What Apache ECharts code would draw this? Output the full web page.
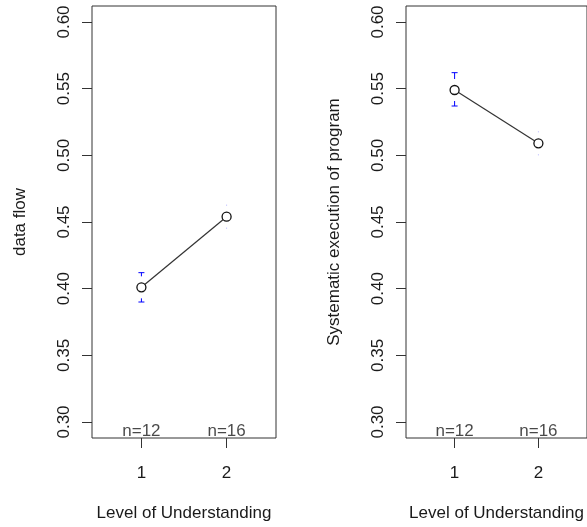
<!DOCTYPE html>
<html>
<head>
<meta charset="utf-8">
<script src="https://cdn.jsdelivr.net/npm/echarts@6/dist/echarts.min.js"></script>
<style>
html,body{margin:0;padding:0;background:#fff;}
#chart{width:587px;height:527px;}
</style>
</head>
<body>
<div id="chart"></div>
<script>
// values
var levels = [1, 2];
var nCounts = [12, 16];
var yTicks = [0.30, 0.35, 0.40, 0.45, 0.50, 0.55, 0.60];
var xTicks = [1, 2];

var dataFlowMean = [0.401, 0.454];
var dataFlowLower = [0.390, 0.445];
var dataFlowUpper = [0.412, 0.463];

var sysExecMean = [0.549, 0.509];
var sysExecLower = [0.537, 0.500];
var sysExecUpper = [0.562, 0.518];

var FONT = '"Liberation Sans", Arial, sans-serif';
var GAP = 11; // gap round the mean, px

function xAxisOf(gi) {
	return {
		type: 'value', gridIndex: gi, min: 0.42, max: 2.58,
		name: 'Level of Understanding', nameLocation: 'middle', nameGap: 67,
		nameTextStyle: {fontFamily: FONT, fontSize: 17, color: '#1a1a1a'},
		axisLine: {show: false},
		axisTick: {show: true, customValues: xTicks, length: 10, lineStyle: {color: '#333'}},
		axisLabel: {customValues: xTicks, margin: 27, fontFamily: FONT, fontSize: 17, color: '#1a1a1a'},
		splitLine: {show: false}
	};
}

function yAxisOf(gi, title) {
	return {
		type: 'value', gridIndex: gi, min: 0.288, max: 0.612,
		name: title, nameLocation: 'middle', nameGap: 63, nameRotate: 90,
		nameTextStyle: {fontFamily: FONT, fontSize: 17, color: '#1a1a1a'},
		axisLine: {show: false},
		axisTick: {show: true, customValues: yTicks, length: 10, lineStyle: {color: '#333'}},
		axisLabel: {customValues: yTicks, rotate: 90, margin: 19, fontFamily: FONT, fontSize: 17, color: '#1a1a1a',
			formatter: function (v) { return v.toFixed(2); }},
		splitLine: {show: false}
	};
}

function renderErrorBar(params, api) {
	var x = api.value(0);
	var pm = api.coord([x, api.value(3)]);
	var ph = api.coord([x, api.value(2)]);
	var pl = api.coord([x, api.value(1)]);
	var kids = [];
	// upper part then lower part
	[[ph[1], pm[1] - GAP], [pl[1], pm[1] + GAP]].forEach(function (e) {
		var len = Math.abs(e[0] - e[1]);
		var faint = len < 2;
		kids.push({type: 'line', shape: {x1: pm[0], y1: e[0], x2: pm[0], y2: faint ? e[0] + (e[1] > e[0] ? 1 : -1) : e[1]},
			style: {stroke: faint ? 'rgba(0,0,255,0.3)' : '#0000ff', lineWidth: 1}});
		if (!faint) {
			kids.push({type: 'line', shape: {x1: pm[0] - 3, y1: e[0], x2: pm[0] + 3, y2: e[0]},
				style: {stroke: '#0000ff', lineWidth: 1}});
		}
	});
	return {type: 'group', children: kids};
}

function panelSeries(gi, mean, lower, upper) {
	var bars = [], pts = [], ns = [];
	for (var i = 0; i < levels.length; i++) {
		bars.push([levels[i], lower[i], upper[i], mean[i]]);
		pts.push([levels[i], mean[i]]);
		ns.push({value: [levels[i], 0.288], label: {formatter: 'n=' + nCounts[i]}});
	}
	return [
		{type: 'custom', xAxisIndex: gi, yAxisIndex: gi, renderItem: renderErrorBar,
			encode: {x: 0, y: [1, 2]}, data: bars, clip: false, silent: true, z: 3},
		{type: 'line', xAxisIndex: gi, yAxisIndex: gi, data: pts, symbol: 'circle', symbolSize: 9,
			itemStyle: {color: '#fff', borderColor: '#111', borderWidth: 1.3},
			lineStyle: {color: '#333', width: 1.2}, z: 4, silent: true},
		{type: 'scatter', xAxisIndex: gi, yAxisIndex: gi, data: ns, symbolSize: 0, silent: true,
			label: {show: true, position: 'top', distance: -2, fontFamily: FONT, fontSize: 17, color: '#1a1a1a'}}
	];
}

var myChart = echarts.init(document.getElementById('chart'));
var option = {
	animation: false,
	backgroundColor: '#fff',
	grid: [
		{left: 92, top: 6, width: 184, height: 434, show: true, borderColor: '#333', borderWidth: 1, backgroundColor: 'transparent'},
		{left: 406, top: 6, width: 184, height: 434, show: true, borderColor: '#333', borderWidth: 1, backgroundColor: 'transparent'}
	],
	xAxis: [xAxisOf(0), xAxisOf(1)],
	yAxis: [yAxisOf(0, 'data flow'), yAxisOf(1, 'Systematic execution of program')],
	series: panelSeries(0, dataFlowMean, dataFlowLower, dataFlowUpper)
		.concat(panelSeries(1, sysExecMean, sysExecLower, sysExecUpper))
};
myChart.setOption(option);
</script>
</body>
</html>
